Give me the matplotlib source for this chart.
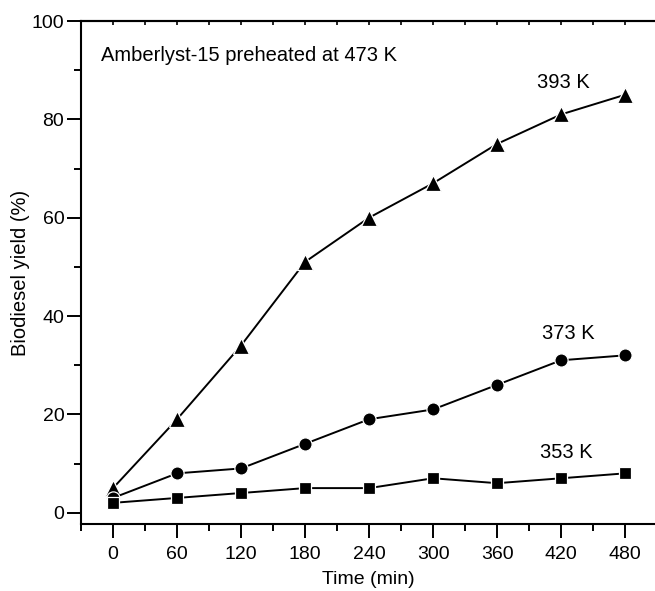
import matplotlib
matplotlib.use("Agg")
import matplotlib.pyplot as plt
import numpy as np

plt.rcParams["font.family"] = ["Liberation Sans", "DejaVu Sans"]

# reaction time (min) and biodiesel yield (%) at each temperature
time = [0, 60, 120, 180, 240, 300, 360, 420, 480]
yield_393 = [5, 19, 34, 51, 60, 67, 75, 81, 85]
yield_373 = [3, 8, 9, 14, 19, 21, 26, 31, 32]
yield_353 = [2, 3, 4, 5, 5, 7, 6, 7, 8]

fig = plt.figure(figsize=(6.55, 5.91), dpi=100)
ax = fig.add_axes([81 / 655, 67 / 591, 574 / 655, 503 / 591])

# lines with a thin white rim round the markers, like the original
style = dict(color="black", lw=1.4, mec="white", mew=0.9, mfc="black")
ax.plot(time, yield_393, marker="^", ms=11, **style)
ax.plot(time, yield_373, marker="o", ms=9.5, **style)
ax.plot(time, yield_353, marker="s", ms=8.5, **style)

ax.set_xlim(-30, 508)
ax.set_ylim(-2.3, 100)

ax.set_xticks(np.arange(0, 481, 60))
ax.set_xticks(np.arange(-30, 509, 30), minor=True)
ax.set_yticks(np.arange(0, 101, 20))
ax.set_yticks(np.arange(10, 100, 20), minor=True)
ax.tick_params(which="major", direction="out", length=10, width=1.4, labelsize=14)
ax.tick_params(which="minor", direction="out", length=5, width=1.4)
ax.tick_params(axis="x", which="major", pad=6)
ax.tick_params(axis="y", which="major", pad=2)

for s in ["left", "bottom", "top"]:
    ax.spines[s].set_linewidth(1.5)
ax.spines["right"].set_visible(False)

# small inward ticks along the top edge
top = ax.secondary_xaxis("top")
top.set_xticks(np.arange(-30, 509, 30))
top.tick_params(direction="in", length=3, width=1.2, labeltop=False)
top.spines["top"].set_linewidth(1.5)

ax.set_xlabel("Time (min)", fontsize=14)
ax.set_ylabel("Biodiesel yield (%)", fontsize=14.5)
ax.xaxis.set_label_coords(0.5, -0.093)
ax.yaxis.set_label_coords(-0.089, 0.5)

ax.text(-11, 93, "Amberlyst-15 preheated at 473 K", fontsize=14.5, va="center", ha="left")
ax.text(422, 87.5, "393 K", fontsize=14.5, ha="center", va="center")
ax.text(427, 36.5, "373 K", fontsize=14.5, ha="center", va="center")
ax.text(425, 12.3, "353 K", fontsize=14.5, ha="center", va="center")

fig.savefig("out.png", dpi=100)
